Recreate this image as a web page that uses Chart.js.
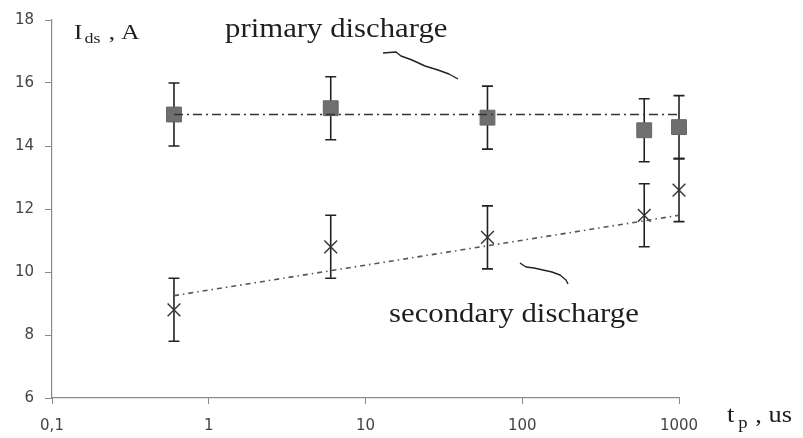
<!DOCTYPE html>
<html>
<head>
<meta charset="utf-8">
<script src="https://cdn.jsdelivr.net/npm/chart.js@4/dist/chart.umd.min.js"></script>
<style>
  html, body { margin: 0; padding: 0; background: #fff; }
  #wrap { width: 803px; height: 438px; }
</style>
</head>
<body>
<div id="wrap"><canvas id="chart"></canvas></div>
<script>
// pulse duration, us
const tp = [0.6, 6, 60, 600, 1000];
// discharge current, A
const primaryI = [15.0, 15.2, 14.9, 14.5, 14.6];
const primaryErr = [1, 1, 1, 1, 1];
const secondaryI = [8.8, 10.8, 11.1, 11.8, 12.6];
const secondaryErr = [1, 1, 1, 1, 1];
// trend lines
const trendTp = [0.6, 1000];
const primaryTrend = [15.0, 15.0];
const secondaryTrend = [9.25, 11.8];
// axis ticks
const xTicks = [0.1, 1, 10, 100, 1000];
const yTicks = [6, 8, 10, 12, 14, 16, 18];

function pts(xs, ys) {
  return xs.map(function (x, i) { return { x: x, y: ys[i] }; });
}

// horizontally stretched serif text, like the scanned figure
function stretchText(ctx, txt, x, y, size, sx) {
  ctx.save();
  ctx.translate(x, y);
  ctx.scale(sx, 1);
  ctx.font = size + 'px "Liberation Serif"';
  ctx.fillText(txt, 0, 0);
  var w = ctx.measureText(txt).width * sx;
  ctx.restore();
  return w;
}

const errorBars = {
  id: 'errorBars',
  beforeDatasetsDraw: function (chart) {
    var ctx = chart.ctx, xs = chart.scales.x, ys = chart.scales.y;
    ctx.save();
    ctx.strokeStyle = '#222';
    ctx.lineWidth = 1.6;
    chart.data.datasets.forEach(function (ds) {
      if (!ds.errors) return;
      ds.data.forEach(function (p, i) {
        var px = xs.getPixelForValue(p.x);
        var top = ys.getPixelForValue(p.y + ds.errors[i]);
        var bot = ys.getPixelForValue(p.y - ds.errors[i]);
        ctx.beginPath();
        ctx.moveTo(px, top); ctx.lineTo(px, bot);
        ctx.moveTo(px - 5.5, top); ctx.lineTo(px + 5.5, top);
        ctx.moveTo(px - 5.5, bot); ctx.lineTo(px + 5.5, bot);
        ctx.stroke();
      });
    });
    ctx.restore();
  }
};

const notes = {
  id: 'notes',
  afterDraw: function (chart) {
    var ctx = chart.ctx;
    ctx.save();
    ctx.fillStyle = '#1e1e1e';
    ctx.textBaseline = 'alphabetic';

    // axis titles
    var x = 74;
    x += stretchText(ctx, 'I', x, 39, 21, 1.2) + 2;
    x += stretchText(ctx, 'ds', x, 43, 15, 1.2) + 2;
    stretchText(ctx, ' , A', x, 39, 21, 1.2);

    x = 727;
    x += stretchText(ctx, 't', x, 422, 24, 1.1) + 4;
    x += stretchText(ctx, 'p', x, 428, 17, 1.1) + 1;
    stretchText(ctx, ' , us', x, 422, 24, 1.1);

    // series labels
    stretchText(ctx, 'primary discharge', 225, 37, 27, 1.14);
    stretchText(ctx, 'secondary discharge', 389, 322, 27, 1.14);

    // leaders
    ctx.strokeStyle = '#222';
    ctx.lineWidth = 1.4;
    ctx.lineJoin = 'round';
    ctx.beginPath();
    ctx.moveTo(383, 53); ctx.lineTo(396, 52); ctx.lineTo(401, 56);
    ctx.lineTo(412, 60); ctx.lineTo(425, 66); ctx.lineTo(438, 70);
    ctx.lineTo(449, 74); ctx.lineTo(458, 79);
    ctx.stroke();
    ctx.beginPath();
    ctx.moveTo(520, 263); ctx.lineTo(526, 267); ctx.lineTo(534, 268);
    ctx.lineTo(543, 270); ctx.lineTo(552, 272); ctx.lineTo(560, 275);
    ctx.lineTo(566, 280); ctx.lineTo(568, 284);
    ctx.stroke();
    ctx.restore();
  }
};

new Chart(document.getElementById('chart'), {
  type: 'scatter',
  data: {
    datasets: [
      {
        label: 'primary trend',
        data: pts(trendTp, primaryTrend),
        showLine: true,
        pointRadius: 0,
        borderColor: '#333',
        borderWidth: 1.4,
        borderDash: [9, 4, 2, 4]
      },
      {
        label: 'secondary trend',
        data: pts(trendTp, secondaryTrend),
        showLine: true,
        pointRadius: 0,
        borderColor: '#555',
        borderWidth: 1.6,
        borderDash: [5, 4, 1.5, 4]
      },
      {
        label: 'primary discharge',
        data: pts(tp, primaryI),
        errors: primaryErr,
        clip: false,
        pointStyle: 'rect',
        pointRadius: 10.5,
        backgroundColor: '#6f6f6f',
        borderColor: '#666',
        borderWidth: 1
      },
      {
        label: 'secondary discharge',
        data: pts(tp, secondaryI),
        errors: secondaryErr,
        clip: false,
        pointStyle: 'crossRot',
        pointRadius: 9,
        borderColor: '#333',
        borderWidth: 1.4
      }
    ]
  },
  options: {
    responsive: true,
    maintainAspectRatio: false,
    animation: false,
    events: [],
    layout: { padding: { top: 13, right: 124, left: 0, bottom: 0 } },
    plugins: {
      legend: { display: false },
      tooltip: { enabled: false }
    },
    scales: {
      x: {
        type: 'logarithmic',
        min: 0.1,
        max: 1000,
        afterBuildTicks: function (scale) {
          scale.ticks = xTicks.map(function (v) { return { value: v }; });
        },
        afterFit: function (scale) { scale.height = 40; },
        border: { color: '#8a8a8a', width: 1.2 },
        grid: { drawOnChartArea: false, color: '#8a8a8a', tickLength: 6 },
        ticks: {
          autoSkip: false,
          maxRotation: 0,
          padding: 13,
          color: '#444',
          font: { family: 'DejaVu Sans', size: 15 },
          callback: function (v) { return String(v).replace('.', ','); }
        }
      },
      y: {
        min: 6,
        max: 18,
        afterBuildTicks: function (scale) {
          scale.ticks = yTicks.map(function (v) { return { value: v }; });
        },
        afterFit: function (scale) { scale.width = 52; },
        border: { color: '#8a8a8a', width: 1.2 },
        grid: { drawOnChartArea: false, color: '#8a8a8a', tickLength: 7 },
        ticks: {
          padding: 11,
          color: '#444',
          font: { family: 'DejaVu Sans', size: 15 }
        }
      }
    }
  },
  plugins: [errorBars, notes]
});
</script>
</body>
</html>
